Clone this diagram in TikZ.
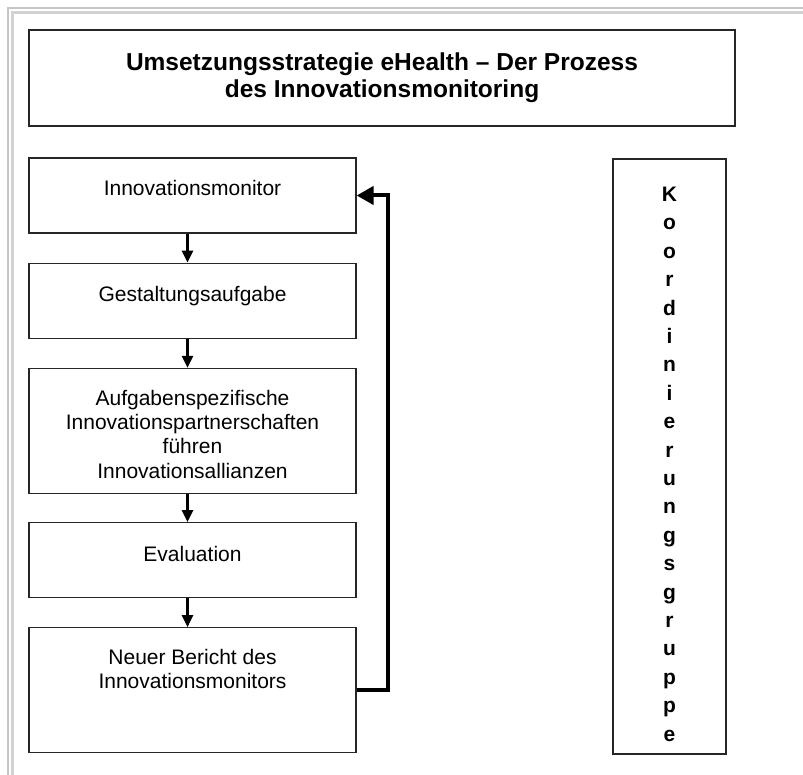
\documentclass[tikz,border=0pt]{standalone}
\usepackage{fontspec}
\setmainfont{Liberation Sans}
\usetikzlibrary{positioning,arrows.meta}
\tikzstyle{headline} = [rectangle, draw=black!85, line width=1.2pt, minimum width=706pt, minimum height=96pt, inner sep=0pt, align=center, font=\fontsize{24.5}{27}\selectfont\bfseries]
\tikzstyle{stage} = [rectangle, draw=black!85, line width=1.2pt, minimum width=327pt, inner sep=0pt]
\tikzstyle{stagetext} = [align=center, inner sep=0pt, anchor=north, font=\fontsize{21}{24.3}\selectfont]
\tikzstyle{columntext} = [align=center, inner sep=0pt, anchor=north, font=\fontsize{21}{28.4}\selectfont\bfseries]
\tikzstyle{arrow} = [line width=2.5pt, -{Triangle[length=12pt,width=11pt]}]
\tikzstyle{feedback} = [line width=4pt, -{Triangle[length=17pt,width=18pt]}]
\tikzstyle{frame} = [gray!45, line width=2pt]

\begin{document}
\begin{tikzpicture}[x=1pt, y=-1pt]
  \useasboundingbox (0,0) rectangle (803,775);
  % gray frame
  \draw [frame] (8,775) -- (8,8) -- (803,8);
  \draw [frame, gray!35, line width=3pt] (12.5,775) -- (12.5,12.5) -- (803,12.5);

  \node (title) [headline] at (382,78) {Umsetzungsstrategie eHealth -- Der Prozess\\des Innovationsmonitoring};

  % process chain
  \node (monitor) [stage, minimum height=75pt] at (192.5,195.5) {};
  \node (design) [stage, minimum height=75pt, below=29pt of monitor] {};
  \node (alliance) [stage, minimum height=125pt, below=29pt of design] {};
  \node (evaluation) [stage, minimum height=75pt, below=28pt of alliance] {};
  \node (report) [stage, minimum height=125pt, below=29pt of evaluation] {};

  \node (monitortext) [stagetext] at ([yshift=-23pt]monitor.north) {Innovationsmonitor};
  \node (designtext) [stagetext] at ([yshift=-23pt]design.north) {Gestaltungsaufgabe};
  \node (alliancetext) [stagetext] at ([yshift=-22pt]alliance.north) {Aufgabenspezifische\\Innovationspartnerschaften\\führen\\Innovationsallianzen};
  \node (evaluationtext) [stagetext] at ([yshift=-24pt]evaluation.north) {Evaluation};
  \node (reporttext) [stagetext] at ([yshift=-22pt]report.north) {Neuer Bericht des\\Innovationsmonitors};

  \foreach \a/\b in {monitor/design, design/alliance, alliance/evaluation, evaluation/report}
    \draw [arrow] ([xshift=-5pt]\a.south) -- ([xshift=-5pt]\b.north);
  \draw [feedback] (report.east) -- ++(31pt,0) |- (monitor.east);

  % coordination group
  \node (group) [stage, minimum width=113pt, minimum height=595pt] at (669.5,456.5) {};
  \node (grouptext) [columntext] at ([yshift=-28.5pt]group.north) {K\\o\\o\\r\\d\\i\\n\\i\\e\\r\\u\\n\\g\\s\\g\\r\\u\\p\\p\\e};
\end{tikzpicture}
\end{document}
